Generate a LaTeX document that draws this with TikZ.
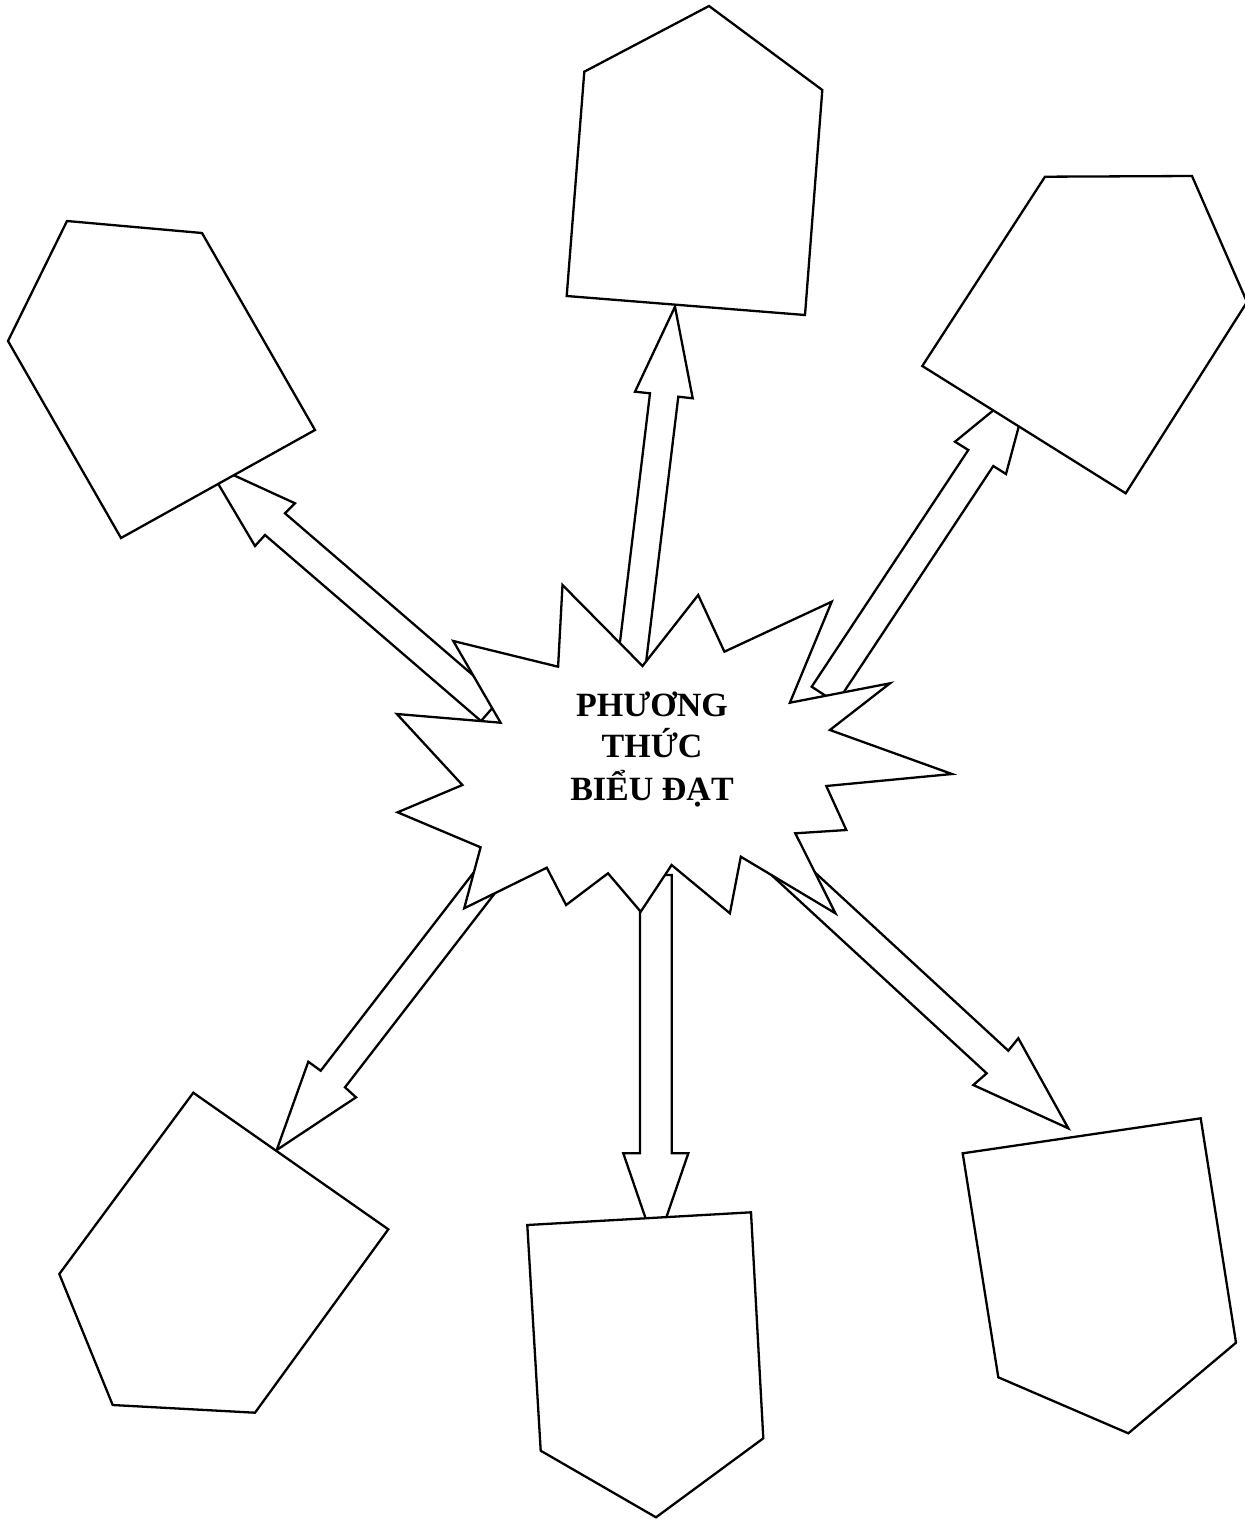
\documentclass[tikz,border=0pt]{standalone}
\usepackage{fontspec}
\setmainfont{Liberation Serif}
\tikzset{
  outline/.style={draw=black, fill=white, line width=2.3pt, line join=miter},
  label3/.style={anchor=base, inner sep=0pt, font=\fontsize{34}{40}\selectfont\bfseries}
}
\begin{document}
\begin{tikzpicture}[x=1pt,y=-1pt]
\useasboundingbox[fill=white] (0,0) rectangle (1245,1519);
% block arrows (drawn first; star and boxes cover their ends)
\draw[outline] (205.4,462.2) -- (295,503.3) -- (285,513.3) -- (500.4,698.8) -- (481,721) -- (265,535) -- (255,546) -- cycle;
\draw[outline] (675,306.7) -- (692.7,398.3) -- (678.3,396.7) -- (642.7,690) -- (614.2,690) -- (650,393.3) -- (635,391.7) -- cycle;
\draw[outline] (1031.5,379.1) -- (1006,474) -- (993.3,466) -- (836.6,703) -- (811.7,686.7) -- (968.3,450) -- (955,441.7) -- cycle;
\draw[outline] (276.7,1150) -- (308.3,1061.7) -- (320.7,1070.7) -- (502.3,835.4) -- (525.6,853.4) -- (345,1087.3) -- (356,1097.3) -- cycle;
\draw[outline] (655.8,1248) -- (623.3,1153.3) -- (640,1153.3) -- (640,875) -- (671.7,875) -- (671.7,1153.3) -- (688.3,1153.3) -- cycle;
\draw[outline] (1068.3,1128.3) -- (973.3,1085) -- (986.7,1073.3) -- (743.9,849.6) -- (765.1,826.5) -- (1008.3,1050.7) -- (1018.3,1038.3) -- cycle;
% starburst
\draw[outline] (396.9,714) -- (500.6,722.7) -- (453.3,641) -- (558.1,666.7) -- (562.5,585) -- (642.5,666) -- (698.2,595) -- (724.4,651.7) -- (831.7,601.7) -- (789.9,702.7) -- (890,683.3) -- (829.9,730) -- (952,774) -- (826.3,786) -- (846.3,830) -- (795.3,833.3) -- (835.4,913.3) -- (740.8,856.7) -- (729.9,913.3) -- (671.6,865) -- (640.7,911.7) -- (608,873.3) -- (566.1,905) -- (546.8,867.7) -- (464.2,908.3) -- (480.6,847.3) -- (397.6,812.3) -- (462.4,785) -- cycle;
\node[label3] (t1) at (652,716.7) {PHƯƠNG};
\node[label3] (t2) at (652,757.5) {THỨC};
\node[label3] (t3) at (652,800.5) {BIỂU ĐẠT};
% pentagons
\draw[outline] (67,221) -- (202,233) -- (315,430) -- (121,538) -- (8,341) -- cycle;
\draw[outline] (709,6) -- (822.3,90) -- (805,315) -- (566.7,296) -- (584.3,71.7) -- cycle;
\draw[outline] (1045,176.7) -- (1192,176) -- (1247,302) -- (1125.7,493.3) -- (922.3,366) -- cycle;
\draw[outline] (193.3,1092.7) -- (388.3,1229.3) -- (255,1412.7) -- (112.7,1405) -- (59.3,1274) -- cycle;
\draw[outline] (527.3,1225) -- (751,1212.3) -- (763.3,1438.3) -- (656,1517.3) -- (540.7,1450.7) -- cycle;
\draw[outline] (962.7,1153.3) -- (1200.7,1118.3) -- (1236,1342.7) -- (1128.3,1433.3) -- (998.3,1377.3) -- cycle;
\end{tikzpicture}
\end{document}
